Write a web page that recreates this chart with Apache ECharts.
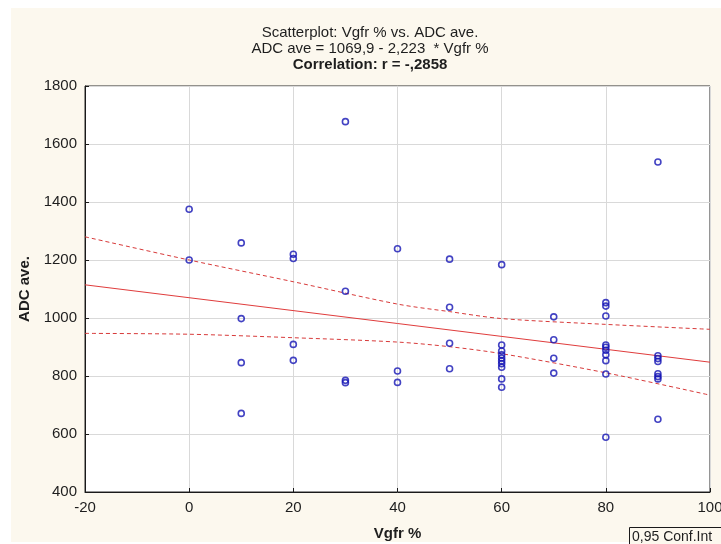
<!DOCTYPE html>
<html>
<head>
<meta charset="utf-8">
<script src="https://cdn.jsdelivr.net/npm/echarts@6/dist/echarts.min.js"></script>
<style>
  html, body { margin: 0; padding: 0; background: #fff; }
  #wrap { position: relative; width: 721px; height: 544px; }
  #panel { position: absolute; left: 11px; top: 8px; width: 710px; height: 534px; background: #fcf8ee; }
  #chart { position: absolute; left: 0; top: 0; width: 721px; height: 544px; }
</style>
</head>
<body>
<div id="wrap">
  <div id="panel"></div>
  <div id="chart"></div>
</div>
<script>
// ADC ave. values, grouped by Vgfr %
var vgfrLevels = [0, 10, 20, 30, 40, 50, 60, 70, 80, 90];
var adcByLevel = [
  [1375, 1200],
  [1259, 998, 846, 671],
  [1220, 1205, 909, 854],
  [1677, 1092, 785, 777],
  [1239, 817, 778],
  [1203, 1037, 913, 825],
  [1184, 907, 886, 873, 862, 852, 842, 830, 790, 761],
  [1004, 925, 861, 810],
  [1053, 1041, 1007, 907, 899, 889, 873, 853, 807, 589],
  [1538, 870, 860, 850, 808, 798, 790, 651]
];

// fitted line ADC = 1069,9 - 2,223 * Vgfr, ends of the x range
var fitX = [-20, 100];
var fitY = [1114.4, 847.6];

// 0,95 confidence band
var bandX = [-20, 0, 20, 40, 50, 60, 80, 100];
var bandUpper = [1280, 1200, 1125, 1048, 1022, 998, 978, 961];
var bandLower = [947, 944, 932, 917, 901, 877, 811, 734];

var xTicks = { min: -20, max: 100, interval: 20 };
var yTicks = { min: 400, max: 1800, interval: 200 };

var points = [];
for (var i = 0; i < vgfrLevels.length; i++) {
  for (var j = 0; j < adcByLevel[i].length; j++) {
    points.push([vgfrLevels[i], adcByLevel[i][j]]);
  }
}
function pairs(xs, ys) {
  return xs.map(function (x, k) { return [x, ys[k]]; });
}

var chart = echarts.init(document.getElementById('chart'));
var font = '"Liberation Sans", Arial, sans-serif';
var txt = '#1e1e1e';

function titleLine(text, top, weight) {
  return {
    text: text, left: 370, top: top, textAlign: 'center', padding: 0,
    textStyle: { fontSize: 15, fontWeight: weight, color: txt, fontFamily: font }
  };
}

var option = {
  backgroundColor: 'transparent',
  animation: false,
  textStyle: { fontFamily: font },
  title: [
    titleLine('Scatterplot: Vgfr % vs. ADC ave.', 25, 'normal'),
    titleLine('ADC ave = 1069,9 - 2,223  * Vgfr %', 41, 'normal'),
    titleLine('Correlation: r = -,2858', 57, 'bold')
  ],
  grid: {
    left: 85, top: 86, width: 625, height: 406,
    outerBoundsMode: 'none', containLabel: false,
    show: true, backgroundColor: '#ffffff', borderColor: '#2a2a2a', borderWidth: 1
  },
  xAxis: {
    type: 'value', min: xTicks.min, max: xTicks.max, interval: xTicks.interval,
    name: 'Vgfr %', nameLocation: 'middle', nameGap: 34,
    nameTextStyle: { fontSize: 15, fontWeight: 'bold', color: txt, fontFamily: font },
    axisLine: { show: true, onZero: false, lineStyle: { color: '#1a1a1a', width: 1 } },
    axisTick: { show: true, inside: true, length: 4, lineStyle: { color: '#1a1a1a' } },
    axisLabel: { fontSize: 15, color: txt, margin: 8, fontFamily: font },
    splitLine: { show: true, lineStyle: { color: '#d9d9d9', width: 1 } }
  },
  yAxis: {
    type: 'value', min: yTicks.min, max: yTicks.max, interval: yTicks.interval,
    name: 'ADC ave.', nameLocation: 'middle', nameGap: 52,
    nameTextStyle: { fontSize: 15, fontWeight: 'bold', color: txt, fontFamily: font },
    axisLine: { show: true, onZero: false, lineStyle: { color: '#1a1a1a', width: 1 } },
    axisTick: { show: true, inside: true, length: 4, lineStyle: { color: '#1a1a1a' } },
    axisLabel: {
      fontSize: 15, color: txt, margin: 8, fontFamily: font,
      formatter: function (v) { return String(v); }
    },
    splitLine: { show: true, lineStyle: { color: '#d9d9d9', width: 1 } }
  },
  series: [
    {
      type: 'line', data: pairs(bandX, bandUpper), smooth: 0.3, symbol: 'none',
      lineStyle: { color: '#d83a3a', width: 1, type: [4, 3] }, z: 2
    },
    {
      type: 'line', data: pairs(bandX, bandLower), smooth: 0.3, symbol: 'none',
      lineStyle: { color: '#d83a3a', width: 1, type: [4, 3] }, z: 2
    },
    {
      type: 'line', data: pairs(fitX, fitY), symbol: 'none',
      lineStyle: { color: '#e03c3c', width: 1 }, z: 2
    },
    {
      type: 'scatter', data: points, symbol: 'circle', symbolSize: 6,
      itemStyle: { color: 'rgba(255,255,255,0)', borderColor: '#1414b4', borderWidth: 1.6 },
      z: 3
    }
  ],
  graphic: [
    {
      type: 'rect', left: 629, top: 527,
      shape: { width: 100, height: 30 },
      style: { fill: '#fcf8ee', stroke: '#1a1a1a', lineWidth: 1 }
    },
    {
      type: 'text', left: 632, top: 530,
      style: { text: '0,95 Conf.Int', fontSize: 14, fill: txt, font: '14px ' + font }
    }
  ]
};

chart.setOption(option);
</script>
</body>
</html>
